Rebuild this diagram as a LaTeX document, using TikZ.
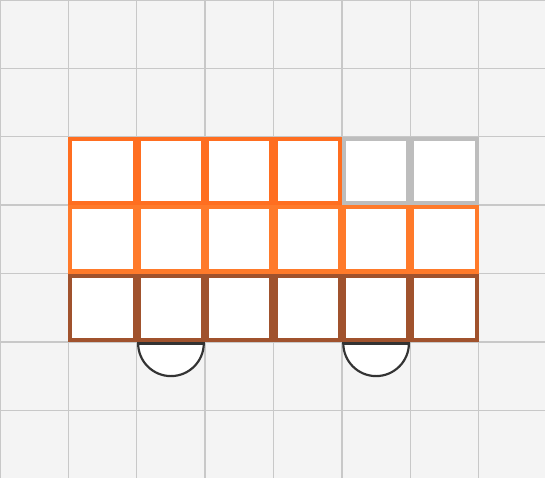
\documentclass[tikz,border=0pt]{standalone}
\definecolor{bggray}{HTML}{F4F4F4}
\definecolor{gridgray}{HTML}{C8C8C8}
\definecolor{toporange}{HTML}{FF6E20}
\definecolor{midorange}{HTML}{FF7A2A}
\definecolor{brickbrown}{HTML}{A0522D}
\definecolor{emptygray}{HTML}{BDBDBD}
\definecolor{wheeldark}{HTML}{333333}
\begin{document}
\begin{tikzpicture}[
  cell/.style={draw=#1,line width=1.7pt,fill=white},
  wheel/.style={draw=wheeldark,line width=0.9pt,fill=white}]
  \useasboundingbox (0,0.01) rectangle (7.97,7);
  % Background grid
  \fill[bggray] (0,0.01) rectangle (7.97,7);
  \foreach \x in {0,...,7}
    \draw[gridgray,line width=0.6pt] (\x,0.01) -- (\x,7);
  \foreach \y in {1,...,7}
    \draw[gridgray,line width=0.6pt] (0,\y) -- (7.97,\y);
  % Top row
  \foreach \x in {1,...,4}
    \draw[cell=toporange] (\x+0.03,4.03) rectangle (\x+0.97,4.97);
  \foreach \x in {5,6}
    \draw[cell=emptygray] (\x+0.03,4.03) rectangle (\x+0.97,4.97);
  % Middle row
  \foreach \x in {1,...,6}
    \draw[cell=midorange] (\x+0.03,3.03) rectangle (\x+0.97,3.97);
  % Bottom row
  \foreach \x in {1,...,6}
    \draw[cell=brickbrown] (\x+0.03,2.03) rectangle (\x+0.97,2.97);
  % Wheels
  \foreach \x in {2.5,5.5} {
    \draw[wheel] (\x-0.48,1.98) arc[start angle=180,end angle=360,radius=0.48] -- cycle;
    \draw[wheeldark,line width=1.4pt] (\x-0.48,1.98) -- (\x+0.48,1.98);
  }
\end{tikzpicture}
\end{document}
